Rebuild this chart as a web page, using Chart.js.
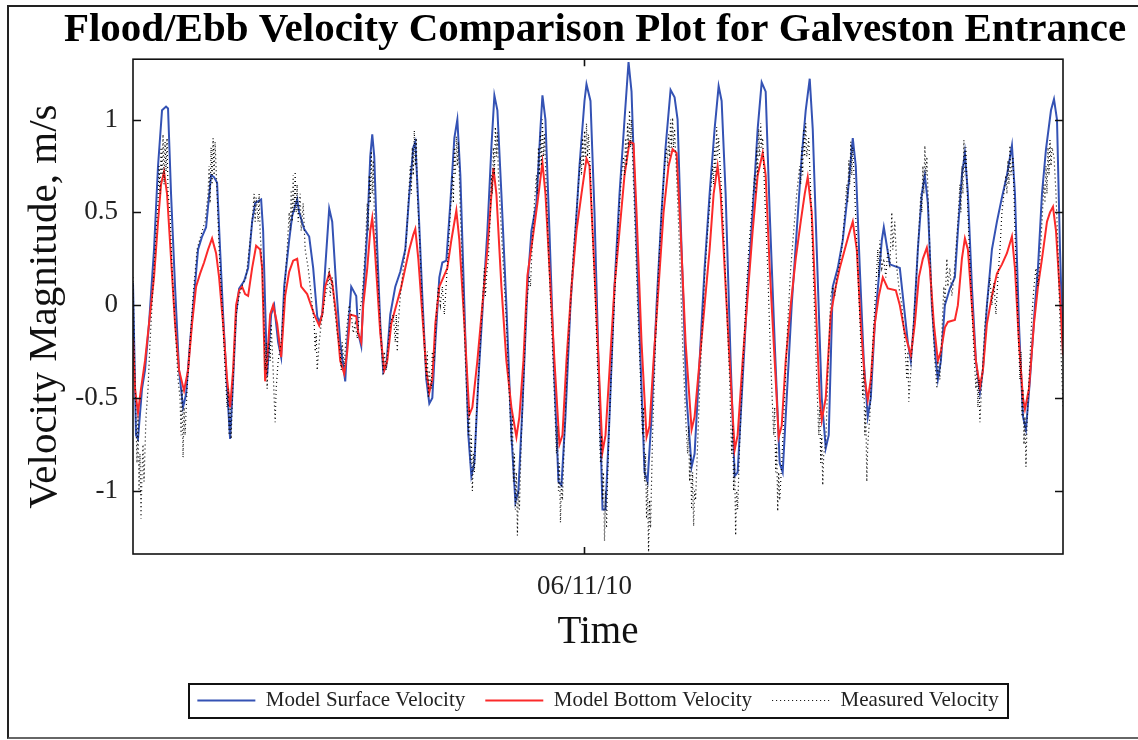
<!DOCTYPE html>
<html>
<head>
<meta charset="utf-8">
<script src="https://cdn.jsdelivr.net/npm/chart.js@4.4.1/dist/chart.umd.min.js"></script>
<style>
html,body{margin:0;padding:0;background:#fff;overflow:hidden;width:1138px;height:740px}
#frame{position:absolute;left:7px;top:5px;width:1200px;height:730px;border-top:2px solid #222;border-left:2px solid #222;border-bottom:2px solid #666;}
canvas{position:absolute;left:0;top:0}
</style>
</head>
<body>
<div id="frame"></div>
<canvas id="c" width="1138" height="740"></canvas>
<script>
// ---- DATA (time in hours from start of record, velocity in m/s) ----
const chartTitle = 'Flood/Ebb Velocity Comparison Plot for Galveston Entrance';
const seriesNames = ['Model Surface Velocity', 'Model Bottom Velocity', 'Measured Velocity'];
const timeTickHours = [225.5];
const timeTickLabels = ['06/11/10'];
const velocityTicks = [-1, -0.5, 0, 0.5, 1];
const velocityTickLabels = ['-1', '-0.5', '0', '0.5', '1'];

const surfaceVelocity = [
[0,0.12],[1.5,-0.70],[2.5,-0.72],[4.5,-0.45],[6,-0.35],[8,-0.1],[10.5,0.3],[12.5,0.75],[14.5,1.05],[16.5,1.07],[17.5,1.06],
[19,0.6],[21,0.1],[23,-0.35],[25,-0.55],[26.5,-0.48],[28.5,-0.2],[30.5,0.05],[32.5,0.3],[34.5,0.37],[36.5,0.42],[39,0.70],
[40.5,0.69],[42,0.66],[43.5,0.3],[45,-0.05],[47,-0.45],[48.5,-0.72],[50,-0.4],[51.5,-0.05],[53,0.09],[55.5,0.13],[57.5,0.2],
[59.5,0.45],[61,0.55],[64,0.57],[65,0.4],[66,0.0],[67,-0.38],[69,-0.05],[70.5,0.0],[72.5,-0.2],[74,-0.28],[75.5,0.1],[78,0.35],
[79.5,0.48],[82,0.57],[83,0.5],[85.5,0.41],[88,0.37],[90,0.2],[92,-0.06],[93,-0.09],[94.5,-0.05],[96,0.2],[98,0.52],[99.5,0.45],
[101.5,0.1],[103.5,-0.2],[106,-0.41],[107,-0.2],[109,0.1],[111.5,0.05],[112.5,-0.15],[114,-0.22],[115,0.05],[117,0.4],[118.5,0.8],
[119.5,0.92],[120.5,0.8],[122,0.3],[123.5,-0.1],[125,-0.36],[126.5,-0.33],[128.5,-0.05],[131,0.1],[133.5,0.18],[136,0.3],[138,0.6],
[140,0.85],[141,0.88],[142.5,0.55],[144.5,0.05],[146.5,-0.4],[148,-0.53],[149.5,-0.5],[151,-0.2],[153,0.15],[154.5,0.23],[156.5,0.24],
[158.5,0.55],[160.5,0.9],[162,1.0],[163.5,0.7],[165.5,0.0],[167.5,-0.7],[169,-0.92],[170.5,-0.85],[172.5,-0.4],[175,0.05],[177,0.4],
[179,0.85],[180.5,1.13],[182,1.05],[184,0.6],[186.5,0.0],[189,-0.7],[191,-1.06],[192.5,-1.0],[194.5,-0.55],[197,0.1],[199,0.4],
[201.5,0.55],[203.5,0.95],[204.5,1.13],[206,1.0],[208,0.4],[210.5,-0.4],[212.5,-0.95],[214,-0.97],[216,-0.6],[218.5,0.0],[221,0.4],
[223,0.75],[225.5,1.1],[226.5,1.19],[228.5,1.1],[230.5,0.5],[232.5,-0.3],[234.5,-1.1],[236,-1.1],[238,-0.6],[240.5,0.1],[243,0.6],
[245.5,1.0],[247.5,1.31],[249,1.15],[251,0.5],[253.5,-0.3],[255.5,-0.9],[257,-0.95],[259,-0.6],[261.5,0.0],[264,0.5],[266,0.85],
[268.5,1.16],[270.5,1.12],[272,1.0],[274,0.3],[276.5,-0.5],[279,-0.87],[280.5,-0.8],[283,-0.3],[285.5,0.2],[288,0.6],[290.5,0.95],
[292.5,1.18],[294,1.1],[296,0.6],[298.5,-0.3],[300.5,-0.92],[302,-0.9],[304.5,-0.4],[307,0.1],[309.5,0.5],[312,0.95],[314,1.2],
[316,1.15],[318,0.5],[320.5,-0.2],[323,-0.85],[324.5,-0.9],[326.5,-0.5],[329,0.0],[331.5,0.4],[334,0.8],[336,1.05],[338,1.22],
[339.5,0.95],[341.5,0.3],[344,-0.5],[346,-0.77],[347.5,-0.7],[349.5,0.1],[352,0.2],[354.5,0.35],[357,0.6],[359.5,0.9],[361,0.75],
[363,0.2],[365,-0.3],[367,-0.6],[368.5,-0.5],[370.5,-0.1],[372.5,0.15],[374,0.35],[375,0.42],[378,0.22],[383,0.2],[385,0.0],[387,-0.2],
[388.5,-0.3],[390,-0.1],[392,0.3],[394,0.6],[395.5,0.7],[397,0.55],[399,0.0],[401,-0.3],[402,-0.4],
[403.5,-0.3],[405.5,0.0],[408,0.09],[410.5,0.15],[412,0.4],[414,0.7],[415.5,0.82],[417,0.6],[419,0.1],[421,-0.3],[423,-0.47],
[424.5,-0.35],[426.5,0.0],[429,0.3],[431.5,0.45],[434,0.58],[436.5,0.7],[439,0.86],[440.5,0.6],[442.5,-0.1],[444.5,-0.6],[446,-0.67],
[448,-0.4],[450.5,0.0],[452,0.2],[454,0.6],[456,0.84],[458.5,1.05],[460,1.11],[461.5,1.0],[463,0.3],[464.5,-0.24]
];

const bottomVelocity = [
[0,-0.18],[1,-0.45],[2.5,-0.58],[4,-0.45],[6,-0.3],[8,-0.1],[10.5,0.15],[12.5,0.45],[14,0.65],[15.5,0.72],[17,0.6],[19,0.25],
[21,-0.1],[23,-0.35],[25.5,-0.46],[27.5,-0.35],[29.5,-0.1],[31.5,0.1],[33.5,0.17],[35.5,0.23],[37.5,0.3],[39.5,0.36],[41.5,0.28],
[43,0.15],[45,-0.1],[47,-0.4],[48.5,-0.55],[50,-0.35],[51.5,0.0],[53,0.08],[54.5,0.1],[56,0.06],[57.5,0.05],[59.5,0.2],[61.5,0.32],
[63.5,0.3],[64.5,0.2],[66,-0.41],[67,-0.3],[68.5,-0.05],[70,0.0],[72,-0.1],[74,-0.28],[76,0.05],[78,0.18],[80,0.24],[82,0.25],
[84,0.1],[87,0.06],[90.5,-0.05],[93,-0.11],[94.5,-0.05],[96,0.1],[98,0.17],[99.5,0.12],[101.5,-0.05],[103.5,-0.3],
[105.5,-0.37],[107,-0.25],[108.5,-0.05],[111.5,-0.06],[112.5,-0.15],[114,-0.2],[115,0.0],[117,0.2],[118.5,0.4],[119.5,0.47],[120.5,0.35],
[122,0.1],[123.5,-0.15],[125.5,-0.35],[127,-0.3],[129,-0.1],[131.5,0.0],[134,0.1],[136,0.2],[138,0.3],[140,0.38],[141,0.41],
[142.5,0.25],[144.5,-0.05],[146.5,-0.35],[148,-0.47],[149.5,-0.4],[151,-0.1],[153,0.1],[155,0.15],[157,0.2],[159,0.35],[161.5,0.51],
[163,0.35],[165.5,-0.1],[168,-0.59],[169.5,-0.55],[172,-0.3],[174.5,0.0],[177,0.3],[180,0.74],[181.5,0.6],[184,0.1],[186.5,-0.3],
[189,-0.55],[191.5,-0.71],[193,-0.6],[195,-0.3],[197,0.16],[199.5,0.35],[202,0.55],[204.5,0.77],[206,0.6],[208,0.2],[210.5,-0.3],
[213,-0.75],[214.5,-0.7],[216.5,-0.3],[219,0.1],[221.5,0.4],[224,0.6],[226.5,0.79],[228,0.75],[230,0.3],[232.5,-0.3],[234.5,-0.79],
[236,-0.7],[238,-0.35],[240.5,0.1],[243,0.4],[245.5,0.7],[248,0.88],[250,0.87],[251.5,0.5],[254,-0.2],[256.5,-0.71],[258,-0.65],
[260,-0.3],[262.5,0.1],[265,0.5],[267.5,0.75],[269.5,0.84],[271.5,0.82],[273.5,0.4],[276,-0.2],[279,-0.67],[280.5,-0.6],[283,-0.3],
[285.5,0.0],[288,0.3],[290,0.6],[292,0.75],[293.5,0.6],[295.5,0.2],[298,-0.3],[300.5,-0.78],[302,-0.7],[304.5,-0.3],[307,0.05],
[309.5,0.4],[312,0.7],[314.5,0.82],[316,0.7],[318,0.2],[320.5,-0.3],[322.5,-0.71],[324,-0.65],[326,-0.3],[328.5,0.0],[331,0.25],
[333.5,0.45],[335.5,0.6],[337,0.69],[339,0.5],[341,0.0],[343,-0.5],[344,-0.62],[346,-0.5],[348.5,-0.05],[351,0.1],[353,0.2],
[355.5,0.3],[357.5,0.38],[359.5,0.45],[361.5,0.3],[363.5,-0.1],[365.5,-0.4],[367,-0.51],[368.5,-0.4],[370.5,-0.1],[372.5,0.05],
[374.5,0.15],[377,0.09],[381,0.08],[383,0.0],[385.5,-0.15],[388.5,-0.27],[390.5,-0.1],[392.5,0.15],[394.5,0.25],
[396.5,0.31],[398,0.2],[400,-0.1],[402,-0.3],[403.5,-0.25],[405.5,-0.12],[407,-0.09],[410.5,-0.08],[412,0.0],[414,0.25],[415.5,0.36],
[417,0.3],[419,0.0],[421,-0.3],[423,-0.44],[424.5,-0.35],[426.5,-0.1],[429,0.05],[431.5,0.17],[434,0.22],[436.5,0.28],[439,0.37],
[440.5,0.2],[442.5,-0.2],[444.5,-0.5],[445.5,-0.56],[447.5,-0.45],[450,-0.1],[452,0.1],[454,0.25],[456.5,0.45],[458,0.5],[459.5,0.53],
[461,0.4],[463,0.05],[464.5,-0.27]
];

const measuredVelocity = [
[0,0.15],[1,-0.4],[2,-0.85],[2.5,-0.6],[3,-1.0],[3.5,-0.8],[4,-1.15],[4.5,-0.9],[5,-0.75],[5.5,-0.95],[6.5,-0.6],[7.5,-0.45],
[8.5,-0.2],[10,0.1],[11.5,0.4],[12.5,0.55],[13,0.75],[13.5,0.6],[14,0.85],[14.5,0.7],[15,0.92],[15.5,0.65],[16,0.88],[16.5,0.72],
[17,0.9],[17.5,0.6],[18.5,0.5],[19.5,0.2],[21,-0.1],[22.5,-0.4],[23.5,-0.5],[24,-0.7],[24.5,-0.45],[25,-0.82],[25.5,-0.55],[26,-0.7],
[27,-0.45],[28.5,-0.2],[30,0.05],[32,0.3],[34,0.38],[36,0.45],[37.5,0.6],[38,0.75],[38.5,0.55],[39,0.85],[39.5,0.65],[40,0.9],
[40.5,0.7],[41,0.88],[42,0.6],[43,0.3],[44.5,0.0],[46,-0.35],[47,-0.55],[47.5,-0.45],[48,-0.7],[48.5,-0.55],[49,-0.72],[50,-0.4],
[51.5,-0.05],[53,0.05],[55,0.12],[56.5,0.15],[58,0.3],[59.5,0.45],[60.5,0.6],[61,0.45],[61.5,0.58],[62.5,0.45],[63,0.6],[63.5,0.4],
[64.5,0.2],[65.5,-0.1],[66,-0.35],[66.5,-0.2],[67,-0.45],[67.5,-0.25],[68,-0.2],[68.5,-0.3],[69,-0.1],[70,-0.35],[70.5,-0.5],
[71,-0.63],[71.5,-0.45],[72.5,-0.3],[74,-0.2],[75.5,0.05],[77,0.3],[78,0.5],[78.5,0.4],[79,0.62],[79.5,0.45],[80,0.7],[80.5,0.5],
[81,0.72],[81.5,0.5],[82,0.65],[82.5,0.45],[83.5,0.6],[84,0.4],[85,0.55],[86,0.3],[87.5,0.2],[89,0.05],[90.5,-0.1],[91,-0.25],
[91.5,-0.15],[92,-0.35],[93,-0.2],[94,-0.1],[96,0.05],[97.5,0.12],[98,0.2],[98.5,0.05],[99.5,0.15],[100.5,0.0],[102,-0.15],
[103.5,-0.25],[104,-0.35],[104.5,-0.2],[105.5,-0.33],[106.5,-0.15],[108,0.0],[109,-0.05],[110,-0.15],[111,-0.1],[112,-0.18],
[113,-0.05],[114.5,0.05],[116,0.3],[117,0.55],[117.5,0.4],[118,0.7],[118.5,0.55],[119,0.83],[119.5,0.6],[120,0.78],[120.5,0.5],
[121.5,0.3],[123,0.0],[124,-0.2],[125,-0.38],[125.5,-0.25],[126.5,-0.35],[127.5,-0.2],[128.5,-0.1],[130,-0.05],[131,-0.2],[131.5,-0.05],
[132,-0.25],[132.5,-0.1],[133.5,0.05],[135,0.2],[136.5,0.35],[137.5,0.55],[138.5,0.75],[139,0.6],[139.5,0.85],[140,0.7],[140.5,0.94],
[141,0.75],[141.5,0.9],[142,0.6],[143,0.4],[144.5,0.0],[145.5,-0.2],[146.5,-0.4],[147,-0.25],[147.5,-0.5],[148,-0.35],[149,-0.45],
[149.5,-0.25],[150.5,-0.3],[151.5,-0.05],[152.5,0.1],[153.5,0.0],[154.5,0.1],[155.5,-0.05],[156.5,0.12],[157.5,0.3],[158.5,0.5],
[159.5,0.7],[160,0.55],[160.5,0.85],[161,0.7],[161.5,0.91],[162,0.75],[162.5,0.88],[163.5,0.5],[164.5,0.2],[166,-0.3],[167.5,-0.7],
[168,-0.55],[168.5,-0.85],[169,-0.7],[169.5,-1.0],[170,-0.8],[170.5,-0.9],[171.5,-0.6],[173,-0.3],[174.5,0.0],[175.5,0.2],[176,0.05],
[176.5,0.15],[177.5,0.25],[178.5,0.5],[179,0.7],[179.5,0.6],[180,0.85],[180.5,0.7],[181,0.96],[181.5,0.8],[182,0.93],[182.5,0.7],
[183.5,0.5],[185,0.2],[186.5,-0.1],[188,-0.5],[189,-0.75],[189.5,-0.6],[190,-0.95],[190.5,-0.8],[191,-1.1],[191.5,-0.9],[192,-1.24],
[192.5,-1.0],[193,-1.1],[194,-0.7],[195.5,-0.3],[196.5,0.0],[197.5,0.1],[198,0.16],[198.5,0.1],[199.5,0.35],[200.5,0.55],[201.5,0.7],
[202,0.6],[202.5,0.85],[203,0.7],[203.5,0.93],[204,0.75],[204.5,1.0],[205,0.8],[205.5,0.92],[206.5,0.6],[207.5,0.3],[209,-0.1],
[210.5,-0.5],[211.5,-0.8],[212,-0.65],[212.5,-1.0],[213,-0.85],[213.5,-1.17],[214,-0.95],[214.5,-1.05],[215.5,-0.7],[217,-0.3],
[218.5,0.0],[220,0.3],[221.5,0.5],[222.5,0.65],[223.5,0.8],[224,0.7],[224.5,0.9],[225,0.75],[225.5,0.94],[226,0.8],[226.5,0.98],
[227,0.8],[227.5,0.92],[228.5,0.7],[229.5,0.4],[231,0.0],[232.5,-0.5],[233.5,-0.85],[234,-0.7],[234.5,-1.05],[235,-0.9],[235.5,-1.27],
[236,-1.0],[236.5,-1.2],[237,-0.95],[238,-0.6],[239.5,-0.2],[241,0.15],[242.5,0.45],[244,0.7],[245,0.8],[245.5,0.7],[246,0.9],
[246.5,0.75],[247,0.98],[247.5,0.85],[248,1.05],[248.5,0.85],[249,1.0],[249.5,0.8],[250.5,0.5],[252,0.0],[253.5,-0.4],[254.5,-0.7],
[255,-0.55],[255.5,-0.95],[256,-0.8],[256.5,-1.15],[257,-0.95],[257.5,-1.33],[258,-1.05],[258.5,-1.2],[259.5,-0.7],[261,-0.2],
[262.5,0.2],[264,0.5],[265.5,0.75],[266.5,0.85],[267,0.75],[267.5,0.92],[268,0.8],[268.5,1.0],[269,0.85],[269.5,1.01],[270,0.85],
[270.5,0.95],[271.5,0.7],[273,0.3],[274.5,-0.2],[276,-0.6],[277,-0.8],[277.5,-0.65],[278,-0.95],[278.5,-0.8],[279,-1.1],[279.5,-0.9],
[280,-1.19],[280.5,-1.0],[281,-1.05],[282.5,-0.6],[284,-0.2],[285.5,0.15],[287,0.4],[288.5,0.6],[289.5,0.75],[290,0.65],[290.5,0.85],
[291,0.7],[291.5,0.96],[292,0.8],[292.5,0.9],[293.5,0.7],[295,0.4],[296.5,0.0],[298,-0.4],[299,-0.8],[299.5,-0.65],[300,-1.0],
[300.5,-0.85],[301,-1.24],[301.5,-1.0],[302,-1.1],[303,-0.75],[304.5,-0.35],[306,0.0],[307.5,0.3],[309,0.5],[310.5,0.7],[311,0.6],
[311.5,0.85],[312,0.7],[312.5,0.95],[313,0.8],[313.5,0.98],[314,0.85],[314.5,0.9],[315.5,0.6],[317,0.2],[318.5,-0.3],[320,-0.7],
[320.5,-0.55],[321,-0.9],[321.5,-0.75],[322,-1.11],[322.5,-0.9],[323,-1.05],[324,-0.85],[325.5,-0.5],[327,-0.1],[328.5,0.2],[330,0.4],
[331.5,0.6],[333,0.75],[333.5,0.65],[334,0.85],[334.5,0.7],[335,0.95],[335.5,0.8],[336,0.98],[336.5,0.8],[337.5,0.9],[338.5,0.6],
[340,0.1],[341.5,-0.4],[342.5,-0.7],[343,-0.55],[343.5,-0.85],[344,-0.7],[344.5,-0.97],[345,-0.8],[346,-0.75],[347,-0.4],[348.5,0.05],
[349.5,0.1],[350.5,0.05],[351.5,0.15],[352.5,0.2],[354,0.3],[355.5,0.5],[356.5,0.65],[357,0.55],[357.5,0.78],[358,0.65],[358.5,0.88],
[359,0.7],[359.5,0.85],[360.5,0.6],[362,0.2],[363.5,-0.2],[364.5,-0.5],[365,-0.35],[365.5,-0.7],[366,-0.55],[366.5,-0.95],[367,-0.75],
[368,-0.6],[369.5,-0.2],[371,0.1],[372,0.3],[372.5,0.15],[373,0.35],[374,0.2],[375,0.25],[376,0.15],[377,0.3],[378,0.2],[379,0.5],
[379.5,0.3],[380.5,0.45],[381.5,0.2],[382.5,0.1],[384,0.0],[385.5,-0.2],[386.5,-0.4],[387,-0.25],[387.5,-0.52],[388.5,-0.35],
[389.5,-0.15],[391,0.1],[392.5,0.4],[393.5,0.6],[394,0.5],[394.5,0.75],[395,0.6],[395.5,0.86],[396,0.7],[396.5,0.8],[397.5,0.45],
[399,0.0],[400.5,-0.3],[401.5,-0.45],[402,-0.3],[403,-0.4],[404,-0.15],[405,0.1],[405.5,0.0],[406.5,0.25],[407,0.1],[408,0.2],
[409,0.05],[410,0.15],[411,0.3],[412,0.45],[413,0.65],[413.5,0.5],[414,0.75],[414.5,0.6],[415,0.89],[415.5,0.7],[416,0.85],[417,0.5],
[418.5,0.1],[420,-0.25],[421,-0.45],[421.5,-0.35],[422,-0.55],[422.5,-0.4],[423,-0.63],[424,-0.4],[425.5,-0.1],[427,0.05],[428,0.15],
[429,0.0],[430,0.12],[431,-0.05],[432,0.15],[433,0.3],[434,0.5],[435,0.6],[436,0.7],[436.5,0.6],[437,0.78],[437.5,0.65],[438,0.86],
[438.5,0.7],[439.5,0.8],[440.5,0.4],[442,-0.1],[443,-0.4],[443.5,-0.25],[444,-0.6],[444.5,-0.45],[445,-0.75],[445.5,-0.6],[446,-0.87],
[446.5,-0.65],[447.5,-0.4],[449,-0.05],[450,0.1],[451,0.2],[452,0.1],[453,0.25],[454,0.45],[455,0.65],[455.5,0.55],[456,0.75],
[456.5,0.6],[457,0.85],[457.5,0.7],[458,0.89],[458.5,0.75],[459,0.85],[460,0.8],[461,0.6],[462,0.3],[463,-0.1],[464,-0.4],[464.5,-0.55]
];

// ---- CHART ----
const FONT = "'Liberation Serif', 'Times New Roman', serif";
const toXY = arr => arr.map(p => ({x: p[0], y: p[1]}));

const axesBox = {
  id: 'axesBox',
  afterDatasetsDraw(chart) {
    const {ctx, chartArea: a, scales: {x, y}} = chart;
    ctx.save();
    ctx.strokeStyle = '#111';
    ctx.lineWidth = 1.6;
    ctx.strokeRect(a.left, a.top, a.right - a.left, a.bottom - a.top);
    ctx.beginPath();
    y.ticks.forEach(t => {
      const py = Math.round(y.getPixelForValue(t.value)) + 0.5;
      ctx.moveTo(a.left, py); ctx.lineTo(a.left + 8, py);
      ctx.moveTo(a.right, py); ctx.lineTo(a.right - 8, py);
    });
    x.ticks.forEach(t => {
      const px = Math.round(x.getPixelForValue(t.value)) + 0.5;
      ctx.moveTo(px, a.bottom); ctx.lineTo(px, a.bottom - 7);
      ctx.moveTo(px, a.top); ctx.lineTo(px, a.top + 7);
    });
    ctx.stroke();
    ctx.restore();
  }
};

const legendBox = {
  id: 'legendBox',
  afterDraw(chart) {
    const hb = chart.legend && chart.legend.legendHitBoxes;
    if (!hb || !hb.length) return;
    const left = Math.min(...hb.map(h => h.left)) - 8;
    const right = Math.max(...hb.map(h => h.left + h.width)) + 10;
    const cy = hb[0].top + hb[0].height / 2;
    const ctx = chart.ctx;
    ctx.save();
    ctx.strokeStyle = '#111';
    ctx.lineWidth = 2;
    ctx.strokeRect(Math.round(left), Math.round(cy - 17), Math.round(right - left), 34);
    ctx.restore();
  }
};

new Chart(document.getElementById('c'), {
  type: 'line',
  data: {
    datasets: [
      {label: seriesNames[0], data: toXY(surfaceVelocity), borderColor: '#3452b4', backgroundColor: '#3452b4',
       borderWidth: 2, pointRadius: 0, pointStyle: 'line', order: 3},
      {label: seriesNames[1], data: toXY(bottomVelocity), borderColor: '#fb2a2a', backgroundColor: '#fb2a2a',
       borderWidth: 2, pointRadius: 0, pointStyle: 'line', order: 2},
      {label: seriesNames[2], data: toXY(measuredVelocity), borderColor: '#000', backgroundColor: '#000',
       borderWidth: 1.2, borderDash: [1, 3], pointRadius: 0, pointStyle: 'line', order: 1}
    ]
  },
  options: {
    responsive: false,
    animation: false,
    devicePixelRatio: 1,
    events: [],
    layout: {padding: {left: 52, right: 0, top: 0, bottom: 19}},
    elements: {line: {tension: 0}},
    scales: {
      x: {
        type: 'linear', position: 'bottom', min: 0, max: 464.5,
        grid: {display: false, drawTicks: false}, border: {display: false},
        afterBuildTicks: s => { s.ticks = timeTickHours.map(v => ({value: v})); },
        afterFit: s => { s.height = 116; },
        ticks: {autoSkip: false, maxRotation: 0, padding: 17, color: '#222',
                font: {family: FONT, size: 27},
                callback: (v, i) => timeTickLabels[i]},
        title: {display: true, text: 'Time', color: '#111', font: {family: FONT, size: 39},
                padding: {top: 0, bottom: 14}}
      },
      y: {
        type: 'linear', position: 'left', min: -1.34, max: 1.325,
        grid: {display: false, drawTicks: false}, border: {display: false},
        afterBuildTicks: s => { s.ticks = velocityTicks.map(v => ({value: v})); },
        afterFit: s => { s.width = 81; },
        ticks: {padding: 15, color: '#222', font: {family: FONT, size: 27},
                callback: (v, i) => velocityTickLabels[i]},
        title: {display: true, text: 'Velocity Magnitude, m/s', color: '#111',
                font: {family: FONT, size: 41}, padding: {top: -31, bottom: 0}}
      },
      yRight: {
        type: 'linear', position: 'right', min: -1.34, max: 1.325, display: true,
        grid: {display: false, drawTicks: false}, border: {display: false},
        ticks: {display: false},
        afterFit: s => { s.width = 75; }
      }
    },
    plugins: {
      title: {display: true, text: chartTitle, color: '#000',
              font: {family: FONT, size: 41, weight: 'bold'}, padding: {top: 6, bottom: 4}},
      legend: {
        display: true, position: 'bottom', fullSize: false,
        labels: {usePointStyle: true, pointStyleWidth: 58, padding: 20, color: '#222',
                 font: {family: FONT, size: 21},
                 sort: (a, b) => a.datasetIndex - b.datasetIndex,
                 generateLabels: chart => Chart.defaults.plugins.legend.labels.generateLabels(chart).map(l => {
                   const ds = chart.data.datasets[l.datasetIndex];
                   l.lineDash = ds.borderDash || [];
                   l.lineWidth = ds.borderWidth;
                   l.strokeStyle = ds.borderColor;
                   return l;
                 })}
      },
      tooltip: {enabled: false}
    }
  },
  plugins: [axesBox, legendBox]
});
</script>
</body>
</html>
